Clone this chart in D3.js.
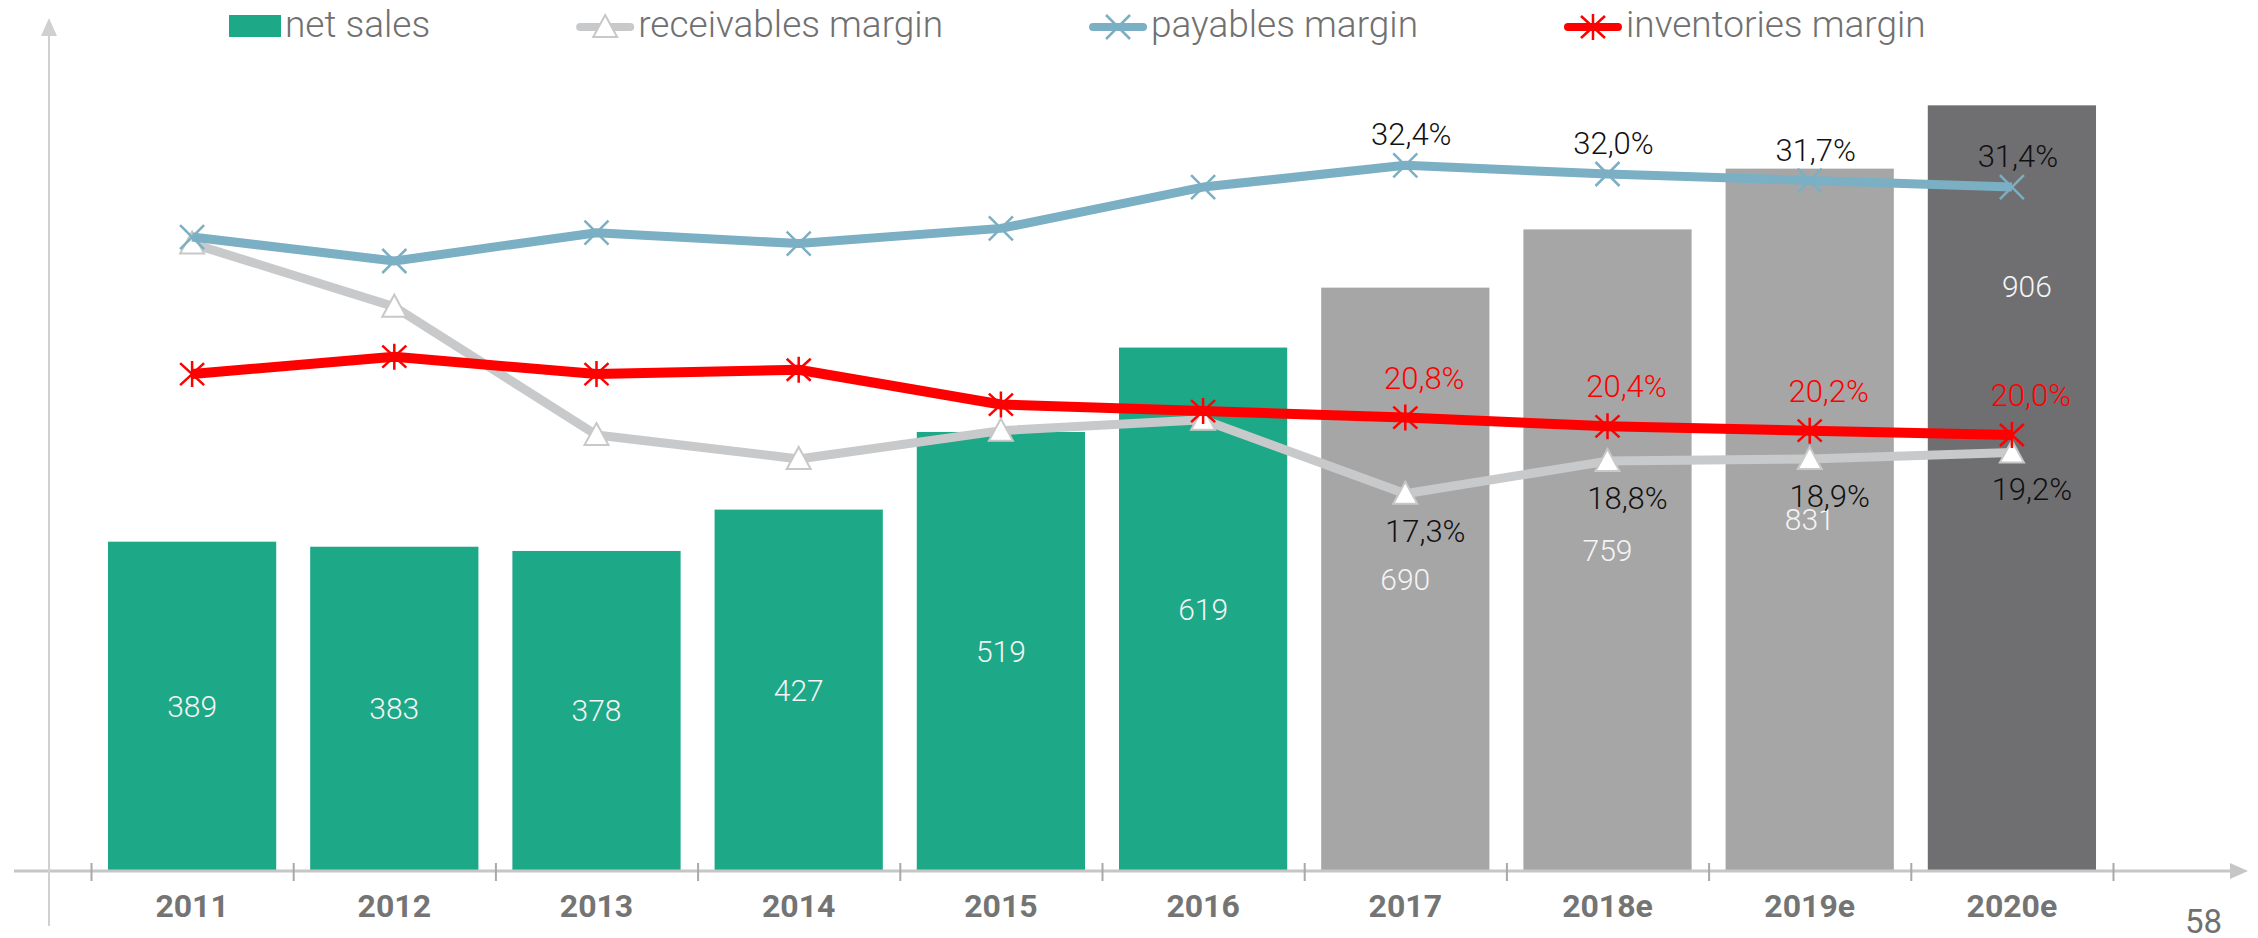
<!DOCTYPE html>
<html>
<head>
<meta charset="utf-8">
<script src="https://cdn.jsdelivr.net/npm/d3@7"></script>
<style>
  body { margin: 0; background: #fff; }
  svg { display: block; font-family: Roboto, "Noto Sans", sans-serif; }
</style>
</head>
<body>
<div id="chart"></div>
<script>
// categories and values
const years = ["2011", "2012", "2013", "2014", "2015", "2016", "2017", "2018e", "2019e", "2020e"];
const netSales = [389, 383, 378, 427, 519, 619, 690, 759, 831, 906];
const receivablesMargin = [28.8, 25.9, 20.0, 18.9, 20.2, 20.7, 17.3, 18.8, 18.9, 19.2];
const payablesMargin = [29.1, 28.0, 29.3, 28.8, 29.5, 31.4, 32.4, 32.0, 31.7, 31.4];
const inventoriesMargin = [22.8, 23.6, 22.8, 23.0, 21.4, 21.1, 20.8, 20.4, 20.2, 20.0];
const labelledFrom = "2017"; // percent labels only shown from here on
const pageNumber = "58";

const width = 2258;
const height = 938;
const baseY = 870;

const teal = "#1da887", grey = "#a6a6a6", darkGrey = "#6f6f71";
const barFill = d => d === "2020e" ? darkGrey : (years.indexOf(d) >= years.indexOf("2017") ? grey : teal);

const svg = d3.select("#chart")
	.append("svg")
		.attr("width", width)
		.attr("height", height);

const x = d3.scaleBand()
	.domain(years)
	.range([91, 2113])
	.paddingInner(0.168)
	.paddingOuter(0.084);

const yBars = d3.scaleLinear()
	.domain([0, 1000])
	.range([baseY, 26]);

const yPct = d3.scaleLinear()
	.domain([0, 40])
	.range([baseY, baseY - 40 * 21.75]);

const cx = d => x(d) + x.bandwidth() / 2;

// bars
svg.append("g")
	.selectAll("rect")
	.data(years)
	.join("rect")
		.attr("x", d => x(d))
		.attr("width", x.bandwidth())
		.attr("y", (d, i) => yBars(netSales[i]))
		.attr("height", (d, i) => baseY - yBars(netSales[i]))
		.attr("fill", barFill);

// bar value labels (middle of the bar, last one sits higher)
svg.append("g")
	.selectAll("text")
	.data(years)
	.join("text")
		.attr("x", (d, i) => cx(d) + (i === years.length - 1 ? 15 : 0))
		.attr("y", (d, i) => i === years.length - 1
			? yBars(netSales[i]) + 181
			: (yBars(netSales[i]) + baseY) / 2)
		.attr("dy", "0.36em")
		.attr("text-anchor", "middle")
		.attr("fill", "#f4f4f4")
		.attr("font-size", 30)
		.attr("font-weight", 300)
		.text((d, i) => netSales[i]);

// axes
const axisG = svg.append("g");
axisG.append("line")
	.attr("x1", 14).attr("x2", 2232)
	.attr("y1", baseY + 1).attr("y2", baseY + 1)
	.attr("stroke", "#c6c6c6").attr("stroke-width", 3);
axisG.append("path")
	.attr("d", `M2230,${baseY - 7}L2248,${baseY + 1}L2230,${baseY + 9}Z`)
	.attr("fill", "#c6c6c6");
axisG.append("line")
	.attr("x1", 49).attr("x2", 49)
	.attr("y1", 926).attr("y2", 34)
	.attr("stroke", "#d0d0d0").attr("stroke-width", 2);
axisG.append("path")
	.attr("d", "M49,18L57,36L41,36Z")
	.attr("fill", "#d0d0d0");

// boundary ticks
const tickScale = d3.scaleLinear().domain([0, years.length]).range([91, 2113]);
svg.append("g")
	.attr("transform", `translate(0,${baseY - 7})`)
	.call(d3.axisBottom(tickScale).tickValues(d3.range(years.length + 1)).tickSize(18).tickFormat(""))
	.call(g => g.select(".domain").remove())
	.call(g => g.selectAll(".tick line").attr("stroke", "#a9a9a9").attr("stroke-width", 2));

// category labels
svg.append("g")
	.attr("transform", `translate(0,${baseY})`)
	.call(d3.axisBottom(x).tickSize(0).tickPadding(0))
	.call(g => g.select(".domain").remove())
	.call(g => g.selectAll(".tick text")
		.attr("y", 35)
		.attr("dy", "0.36em")
		.attr("fill", "#747474")
		.attr("font-family", "Roboto, sans-serif")
		.attr("font-size", 32)
		.attr("font-weight", 700));

// line series
const series = [
	{ name: "receivables margin", values: receivablesMargin, color: "#c8c9cb", width: 9, marker: "triangle",
	  labelColor: "#111", dx: 20, dy: 48 },
	{ name: "payables margin", values: payablesMargin, color: "#7bafc4", width: 9, marker: "x",
	  labelColor: "#111", dx: 6, dy: -20 },
	{ name: "inventories margin", values: inventoriesMargin, color: "#ff0000", width: 10, marker: "star",
	  labelColor: "#ff0000", dx: 19, dy: -29 }
];

const markerPath = {
	x: "M-12,-12L12,12M-12,12L12,-12",
	star: "M-12,-11L12,11M-12,11L12,-11M0,-13L0,13",
	triangle: "M0,-12L12,10L-12,10Z"
};

function drawMarker(sel, s) {
	if (s.marker === "triangle") {
		sel.attr("d", markerPath.triangle)
			.attr("fill", "#fff")
			.attr("stroke", "#c8c8c8")
			.attr("stroke-width", 2);
	} else {
		sel.attr("d", markerPath[s.marker])
			.attr("fill", "none")
			.attr("stroke", s.color)
			.attr("stroke-width", 2.5);
	}
}

const lineGen = d3.line()
	.x((d, i) => cx(years[i]))
	.y(d => yPct(d));

const fmtPct = v => v.toFixed(1).replace(".", ",") + "%";

series.forEach(s => {
	const g = svg.append("g");
	g.append("path")
		.datum(s.values)
		.attr("d", lineGen)
		.attr("fill", "none")
		.attr("stroke", s.color)
		.attr("stroke-width", s.width)
		.attr("stroke-linejoin", "round");
	g.selectAll("path.marker")
		.data(s.values)
		.join("path")
			.attr("class", "marker")
			.attr("transform", (d, i) => `translate(${cx(years[i])},${yPct(d)})`)
			.call(drawMarker, s);
});

// percent labels on top of everything
series.forEach(s => {
	svg.append("g")
		.selectAll("text")
		.data(s.values.map((v, i) => ({ v, year: years[i], i }))
			.filter(d => d.i >= years.indexOf(labelledFrom)))
		.join("text")
			.attr("x", d => cx(d.year) + s.dx)
			.attr("y", d => yPct(d.v) + s.dy)
			.attr("text-anchor", "middle")
			.attr("fill", s.labelColor)
			.attr("font-size", 31)
			.attr("font-weight", 300)
			.text(d => fmtPct(d.v));
});

// legend
const legendItems = [
	{ name: "net sales", kind: "bar", color: teal },
	...series.map(s => ({ name: s.name, kind: "line", s }))
];
let lx = 229;
legendItems.forEach(item => {
	const g = svg.append("g").attr("transform", `translate(${lx},0)`);
	let symW;
	if (item.kind === "bar") {
		symW = 52;
		g.append("rect")
			.attr("x", 0).attr("y", 15)
			.attr("width", symW).attr("height", 22)
			.attr("fill", item.color);
	} else {
		symW = 58;
		g.append("line")
			.attr("x1", 4).attr("x2", symW - 4)
			.attr("y1", 27).attr("y2", 27)
			.attr("stroke", item.s.color)
			.attr("stroke-width", 8)
			.attr("stroke-linecap", "round");
		g.append("path")
			.attr("transform", `translate(${symW / 2},27)`)
			.call(drawMarker, item.s);
	}
	const t = g.append("text")
		.attr("x", symW + 4)
		.attr("y", 37)
		.attr("fill", "#707070")
		.attr("font-size", 37)
		.attr("font-weight", 300)
		.text(item.name);
	lx += symW + 4 + t.node().getComputedTextLength() + 146;
});

// page number
svg.append("text")
	.attr("x", 2222)
	.attr("y", 933)
	.attr("text-anchor", "end")
	.attr("fill", "#707070")
	.attr("font-size", 33)
	.text(pageNumber);
</script>
</body>
</html>
